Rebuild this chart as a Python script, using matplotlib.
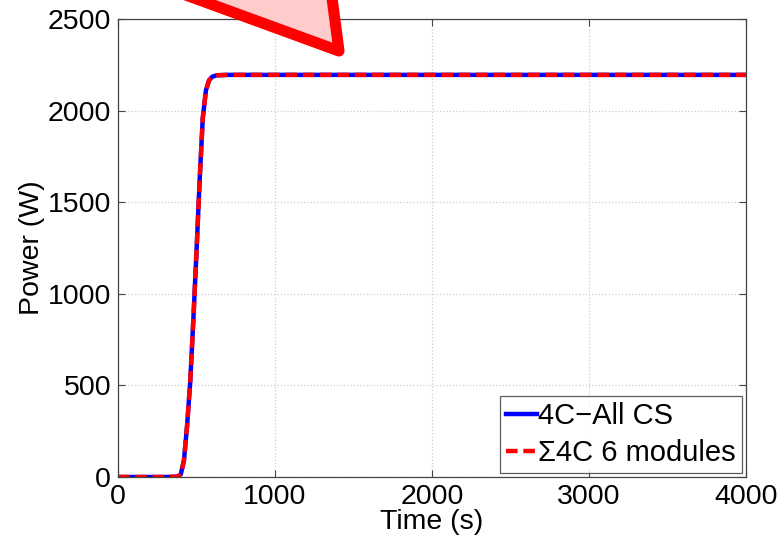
import matplotlib

matplotlib.use("Agg")
import matplotlib.pyplot as plt
from matplotlib.patches import Polygon

plt.rcParams["font.family"] = ["Liberation Sans", "DejaVu Sans"]

# power ramp (time in s, power in W)
time_s = [0, 100, 200, 300, 380, 400, 420, 440, 460, 480, 500, 520, 540,
          560, 580, 600, 630, 700, 1000, 2000, 3000, 4000]
power_w = [0, 0, 0, 0, 2, 15, 90, 280, 520, 860, 1230, 1620, 1960,
           2110, 2165, 2185, 2193, 2195, 2195, 2195, 2195, 2195]

xticks = [0, 1000, 2000, 3000, 4000]
yticks = [0, 500, 1000, 1500, 2000, 2500]
labels = ["4C\u2212All CS", "\u03a34C 6 modules"]

W, H = 781, 541
fig = plt.figure(figsize=(W / 100, H / 100), dpi=100)
ax = fig.add_axes([118 / W, 1 - 477 / H, (746 - 118) / W, (477 - 19) / H])

ax.plot(time_s, power_w, color="#0000ff", lw=3.2, label=labels[0])
ax.plot(time_s, power_w, color="#ff0000", lw=3.2, ls=(0, (2.6, 1.3)), label=labels[1])

ax.set_xlim(0, 4000)
ax.set_ylim(0, 2500)
ax.set_xticks(xticks)
ax.set_yticks(yticks)
ax.grid(True, ls=":", color="#cccccc", lw=0.9)
ax.tick_params(direction="in", length=5, width=0.8, color="#444444",
               top=True, right=True, labelsize=20.5)
ax.tick_params(axis="x", pad=5)
ax.tick_params(axis="y", pad=5)
for s in ax.spines.values():
    s.set_color("#444444")
    s.set_linewidth(0.9)

ax.set_xlabel("Time (s)", fontsize=20.5, labelpad=-1)
ax.set_ylabel("Power (W)", fontsize=20.5, labelpad=2)

leg = ax.legend(loc="lower right", fontsize=21, frameon=True, fancybox=False,
                borderaxespad=0.15, handlelength=1.05, handletextpad=0.05,
                borderpad=0.2, labelspacing=0.3)
leg.get_frame().set_edgecolor("#333333")
leg.get_frame().set_linewidth(0.9)

# big red callout arrow poking in from the top edge (figure pixel coords)
tri_px = [(90, -40), (327, -40), (339, 51)]
tri = Polygon([(x / W, 1 - y / H) for x, y in tri_px], closed=True,
              transform=fig.transFigure, facecolor="#ffcccc", edgecolor="#ff0000",
              lw=8, joinstyle="round", clip_on=False)
fig.add_artist(tri)

fig.savefig("out.png", dpi=100)
